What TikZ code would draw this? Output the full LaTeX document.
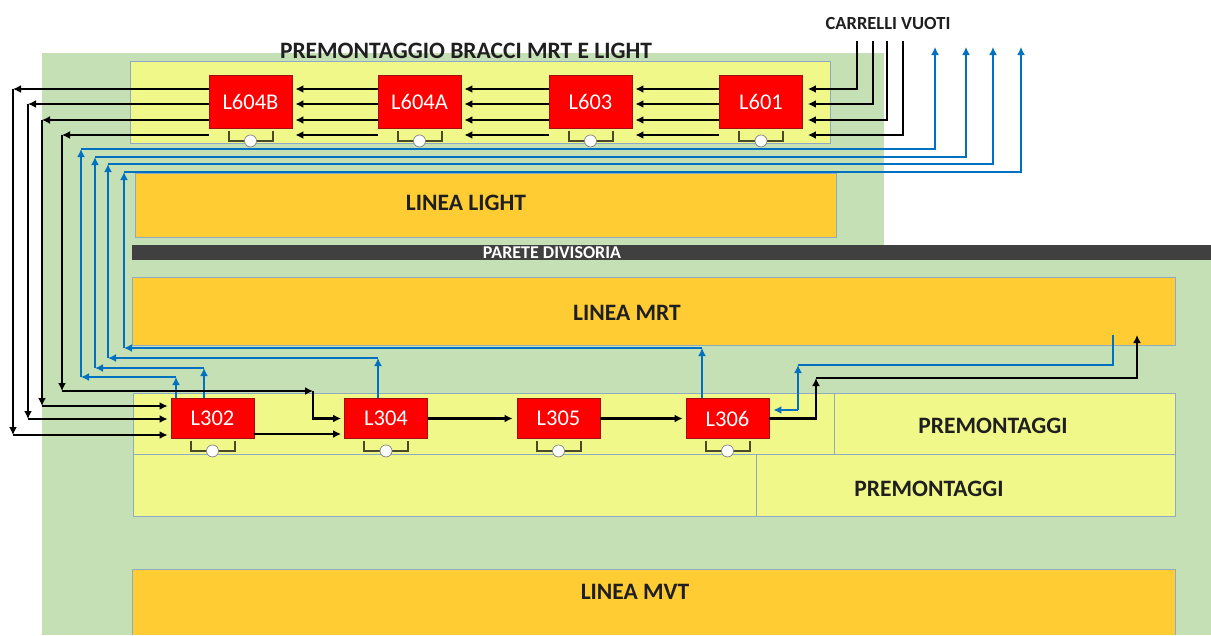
\documentclass[tikz,border=0pt]{standalone}
\usepackage{fontspec}
\setmainfont{Carlito}
\usetikzlibrary{arrows.meta,calc}
\definecolor{bggreen}{HTML}{C5E0B4}
\definecolor{ylw}{HTML}{F0F88A}
\definecolor{org}{HTML}{FFCC33}
\definecolor{barc}{HTML}{404040}
\definecolor{edge}{HTML}{8FAAC4}
\definecolor{blu}{HTML}{0070C0}
\definecolor{brk}{HTML}{4A4A2A}
\definecolor{redb}{HTML}{FF0000}
\definecolor{redd}{HTML}{A01010}
\begin{document}
\begin{tikzpicture}[x=1pt,y=-1pt,
  blk/.style={line width=2.8pt,black,-{Latex[length=8pt,width=8pt]}},
  blkp/.style={line width=2.8pt,black},
  bl/.style={line width=2.4pt,blu,-{Latex[length=8pt,width=8pt]}},
  blp/.style={line width=2.4pt,blu},
  zone/.style={draw=edge,line width=0.9pt},
  station/.style={draw=redd,line width=0.9pt,fill=redb,text=white,inner sep=0pt,minimum width=83pt,minimum height=53pt,font=\fontsize{22.5}{24}\selectfont},
  stationlow/.style={station,minimum height=40pt},
  head/.style={font=\bfseries\fontsize{23.5}{26}\selectfont,text=black!88,inner sep=0pt},
  bracket/.style={draw=brk,line width=2pt},
  knob/.style={fill=white,draw=gray,line width=0.7pt}]
\useasboundingbox (0,0) rectangle (1211,635);
\fill[white] (0,0) rectangle (1211,635);
% backgrounds
\fill[bggreen] (42,53) rectangle (884,260);
\fill[bggreen] (42,245) rectangle (1211,635);
\fill[barc] (132,245) rectangle (1211,260);
\node[font=\bfseries\fontsize{18}{19}\selectfont,text=white,inner sep=0pt] (pd) at (552,253) {PARETE DIVISORIA};
\filldraw[zone,fill=ylw] (130,61) rectangle (830,143);
\filldraw[zone,fill=org] (135,173) rectangle (836,237);
\filldraw[zone,fill=org] (132,277) rectangle (1175,345);
\filldraw[zone,fill=ylw] (133,393) rectangle (834,454);
\filldraw[zone,fill=ylw] (834,393) rectangle (1175,454);
\filldraw[zone,fill=ylw] (133,454) rectangle (756,516);
\filldraw[zone,fill=ylw] (756,454) rectangle (1175,516);
\fill[org] (132,569) rectangle (1175,635);
\draw[zone] (132,635) -- (132,569) -- (1175,569) -- (1175,635);
% labels
\node[head] (title) at (466,51) {PREMONTAGGIO BRACCI MRT E LIGHT};
\node[font=\bfseries\fontsize{18.5}{20}\selectfont,text=black!88,inner sep=0pt] (cv) at (888,24) {CARRELLI VUOTI};
\node[head] (light) at (466,203) {LINEA LIGHT};
\node[head] (mrt) at (627,313) {LINEA MRT};
\node[head] (pm1) at (993,426) {PREMONTAGGI};
\node[head] (pm2) at (929,489) {PREMONTAGGI};
\node[head] (mvt) at (635,592) {LINEA MVT};
% stations
\node[station] (L604B) at (250.5,102) {L604B};
\node[station] (L604A) at (419.5,102) {L604A};
\node[station] (L603) at (590.5,102) {L603};
\node[station] (L601) at (761,102) {L601};
\node[stationlow] (L302) at (212.5,418.5) {L302};
\node[stationlow] (L304) at (386,418.5) {L304};
\node[stationlow] (L305) at (558.5,418.5) {L305};
\node[stationlow] (L306) at (727.5,418.5) {L306};
\foreach \s in {L604B,L604A,L603,L601,L302,L304,L305,L306}{
  \draw[bracket] ($(\s.south)+(-22,2)$) -- ++(0,10) -- ++(44,0) -- ++(0,-10);
  \draw[knob] ($(\s.south)+(0,12)$) circle[radius=6pt];
}
% coordinates
\coordinate (y1) at (0,89); \coordinate (y2) at (0,104);
\coordinate (y3) at (0,120); \coordinate (y4) at (0,135);
\coordinate (cv1) at (857,41); \coordinate (cv2) at (873,41);
\coordinate (cv3) at (887,41); \coordinate (cv4) at (903,41);
\coordinate (k1) at (13,0); \coordinate (k2) at (28,0);
\coordinate (k3) at (42,0); \coordinate (k4) at (62,0);
\coordinate (e1) at (0,435); \coordinate (e2) at (0,419);
\coordinate (e3) at (0,406); \coordinate (e4) at (0,391);
\coordinate (m) at (313,0); \coordinate (f) at (0,434);
\coordinate (g1) at (816,378); \coordinate (g2) at (1137,335);
\coordinate (p1) at (81,0); \coordinate (p2) at (95,0);
\coordinate (p3) at (108,0); \coordinate (p4) at (124,0);
\coordinate (q1) at (0,377); \coordinate (q2) at (0,368);
\coordinate (q3) at (0,358); \coordinate (q4) at (0,348);
\coordinate (t1) at (0,149); \coordinate (t2) at (0,157);
\coordinate (t3) at (0,164); \coordinate (t4) at (0,172);
\coordinate (r1) at (935,47); \coordinate (r2) at (966,47);
\coordinate (r3) at (993,47); \coordinate (r4) at (1021,47);
\coordinate (s1) at (176,0); \coordinate (s2) at (204,0);
\coordinate (s3) at (378,0); \coordinate (s4) at (702,0);
\coordinate (h0) at (1113,335); \coordinate (h1) at (798,365);
\coordinate (h2) at (798,410);
% blue connectors
\foreach \s/\bx/\q/\p/\t/\r in {s1/L302/q1/p1/t1/r1, s2/L302/q2/p2/t2/r2, s3/L304/q3/p3/t3/r3, s4/L306/q4/p4/t4/r4}{
  \draw[bl] (\s |- \bx.north) -- (\s |- \q);
  \draw[bl] (\s |- \q) -- (\p |- \q);
  \draw[bl] (\p |- \q) -- (\p |- \t);
  \draw[bl] (\p |- \t) -| (\r);
}
\draw[blp] (h0) |- (h1);
\draw[bl] (h2) -- (h1);
\draw[bl,shorten >=4pt] (h2) -- (L306.east |- h2);
% black connectors top
\foreach \c/\yy in {cv1/y1,cv2/y2,cv3/y3,cv4/y4}
  \draw[blk,shorten >=5pt] (\c) |- (L601.east |- \yy);
\foreach \a/\b in {L601/L603,L603/L604A,L604A/L604B}
  \foreach \yy in {y1,y2,y3,y4}
    \draw[blk,shorten >=3pt] (\a.west |- \yy) -- (\b.east |- \yy);
\foreach \k/\yy/\e in {k1/y1/e1,k2/y2/e2,k3/y3/e3}{
  \draw[blk] (L604B.west |- \yy) -- (\k |- \yy);
  \draw[blk] (\k |- \yy) -- (\k |- \e);
  \draw[blk,shorten >=3pt] (\k |- \e) -- (L302.west |- \e);
}
\draw[blk] (L604B.west |- y4) -- (k4 |- y4);
\draw[blk] (k4 |- y4) -- (k4 |- e4);
\draw[blk] (k4 |- e4) -- (m |- e4);
\draw[blk,shorten >=3pt] (m |- e4) |- (L304.west);
% black connectors bottom
\draw[blk,shorten >=3pt] (L302.east |- f) -- (L304.west |- f);
\draw[blk,shorten >=4pt] (L304.east) -- (L305.west);
\draw[blk,shorten >=3pt] (L305.east) -- (L306.west);
\draw[blk] (L306.east) -| (g1);
\draw[blk] (g1) -| (g2);
\end{tikzpicture}
\end{document}
